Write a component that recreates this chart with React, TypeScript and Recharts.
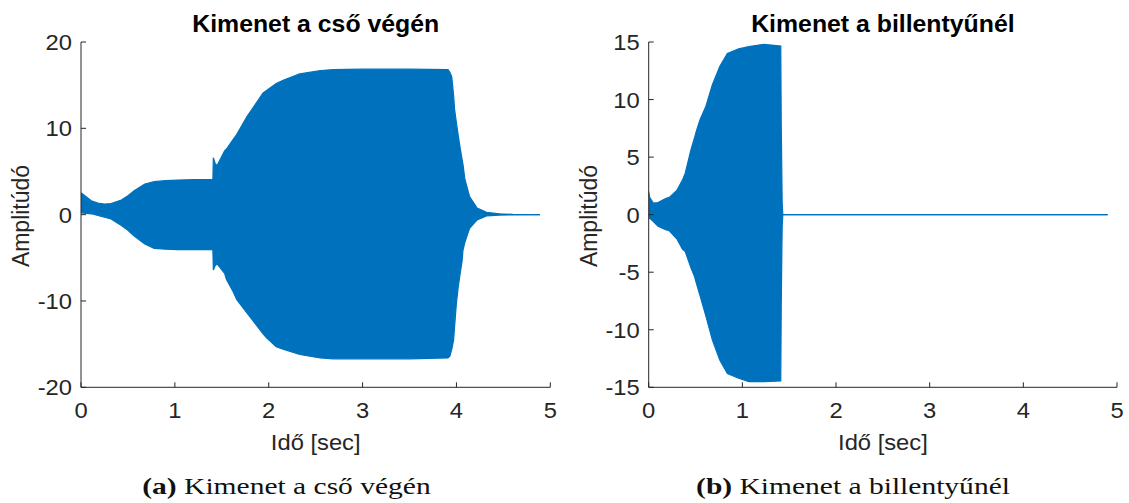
import React from 'react';
import { AreaChart, Area, XAxis, YAxis } from 'recharts';

// ---------- data ----------
const xTicks = [0, 1, 2, 3, 4, 5];
const leftYTicks = [-20, -10, 0, 10, 20];
const rightYTicks = [-15, -10, -5, 0, 5, 10, 15];

// Left panel: envelope of the output at the end of the tube
const leftTime = [
  0, 0.005, 0.11, 0.18, 0.25, 0.32, 0.43, 0.5, 0.57, 0.68, 0.78, 0.9, 1.03, 1.2, 1.39, 1.405,
  1.41, 1.43, 1.45, 1.53, 1.55, 1.62, 1.66, 1.77, 1.84, 1.94, 1.98, 2.08, 2.16, 2.33, 2.55,
  2.69, 3.0, 3.5, 3.91, 3.93, 3.95, 3.97, 3.98, 4.0, 4.02, 4.04, 4.06, 4.07, 4.09, 4.13, 4.14,
  4.22, 4.32, 4.46, 4.6, 4.89,
];
const leftUpper = [
  2.4, 2.5, 1.6, 1.35, 1.22, 1.28, 1.7, 2.2, 2.8, 3.55, 3.82, 3.95, 4.0, 4.05, 4.05, 4.05,
  6.6, 5.9, 5.7, 7.4, 7.6, 8.7, 9.3, 11.4, 12.5, 14.1, 14.4, 15.2, 15.6, 16.3, 16.7,
  16.8, 16.85, 16.85, 16.8, 16.5, 16.0, 13.8, 12.2, 10.6, 9.1, 7.7, 6.4, 5.8, 4.1, 2.5, 2.1,
  0.77, 0.27, 0.1, 0.03, 0,
];
const leftLower = [
  0.2, 0.2, 0.1, -0.1, -0.3, -0.5, -1.27, -1.8, -2.5, -3.4, -3.9, -4.0, -4.05, -4.05, -4.05, -4.1,
  -6.4, -5.9, -5.7, -6.8, -7.5, -8.9, -9.85, -11.4, -12.4, -13.8, -14.3, -15.3, -15.6, -16.2, -16.6,
  -16.7, -16.7, -16.7, -16.6, -16.4, -15.6, -14.5, -13.0, -10.2, -8.3, -6.8, -5.4, -4.1, -3.2, -1.9, -1.6,
  -0.6, -0.15, -0.05, -0.02, 0,
];

// Right panel: envelope of the output at the key
const rightTime = [
  0, 0.01, 0.05, 0.1, 0.18, 0.22, 0.3, 0.36, 0.39, 0.45, 0.49, 0.51, 0.55, 0.61, 0.68, 0.76,
  0.84, 0.96, 1.07, 1.23, 1.41, 1.415, 1.425, 1.432, 4.9,
];
const rightUpper = [
  2.0, 1.5, 1.0, 1.05, 1.4, 1.5, 2.1, 3.0, 3.6, 5.6, 6.7, 7.3, 8.3, 9.4, 11.3, 12.9,
  14.0, 14.4, 14.6, 14.8, 14.65, 7.9, 1.0, 0, 0,
];
const rightLower = [
  -0.35, -0.3, -0.6, -1.0, -1.3, -1.4, -2.1, -3.0, -3.2, -4.6, -5.4, -6.0, -7.1, -8.8, -10.9, -12.65,
  -13.8, -14.2, -14.5, -14.5, -14.45, -8.0, -1.0, 0, 0,
];

const leftTitle = 'Kimenet a cső végén';
const rightTitle = 'Kimenet a billentyűnél';
const xLabel = 'Idő [sec]';
const yLabel = 'Amplitúdó';
const leftTag = '(a)';
const rightTag = '(b)';

// ---------- styles ----------
const BLUE = '#0072BD';
const AXIS = '#262626';
const SANS = '"Liberation Sans", Arial, Helvetica, sans-serif';
const SERIF = '"Liberation Serif", "Times New Roman", serif';
const TICK_FS = 22;
const SX = 1.08;

const leftData = leftTime.map((t, i) => ({ t, range: [leftLower[i], leftUpper[i]] }));
const rightData = rightTime.map((t, i) => ({ t, range: [rightLower[i], rightUpper[i]] }));

function XTick(props: any) {
  const { x, y, payload } = props;
  return (
    <g>
      <line x1={x} y1={y} x2={x} y2={y - 5} stroke={AXIS} strokeWidth={1} />
      <text
        transform={`translate(${x},${y + 31}) scale(${SX},1)`}
        textAnchor="middle"
        fontFamily={SANS}
        fontSize={TICK_FS}
        fill={AXIS}
      >
        {payload.value}
      </text>
    </g>
  );
}

function YTick(props: any) {
  const { x, y, payload } = props;
  return (
    <g>
      <line x1={x} y1={y} x2={x + 5} y2={y} stroke={AXIS} strokeWidth={1} />
      <text
        transform={`translate(${x - 9},${y + 8}) scale(${SX},1)`}
        textAnchor="end"
        fontFamily={SANS}
        fontSize={TICK_FS}
        fill={AXIS}
      >
        {payload.value}
      </text>
    </g>
  );
}

const Y_W = 60;
const X_H = 40;

function Panel(props: { data: any[]; yTicks: number[]; width: number; left: number; right: number }) {
  const { data, yTicks, width, left, right } = props;
  const ymax = yTicks[yTicks.length - 1];
  return (
    <AreaChart
      width={width}
      height={503}
      data={data}
      margin={{ top: 42, right, bottom: 115.7 - X_H, left: left - Y_W }}
    >
      <XAxis
        type="number"
        dataKey="t"
        domain={[0, 5]}
        ticks={xTicks}
        height={X_H}
        tickSize={0}
        tickMargin={0}
        tickLine={false}
        axisLine={{ stroke: AXIS, strokeWidth: 1 }}
        tick={<XTick />}
        interval={0}
        allowDataOverflow
      />
      <YAxis
        type="number"
        domain={[-ymax, ymax]}
        ticks={yTicks}
        width={Y_W}
        tickSize={0}
        tickMargin={0}
        tickLine={false}
        axisLine={{ stroke: AXIS, strokeWidth: 1 }}
        tick={<YTick />}
        interval={0}
        allowDataOverflow
      />
      <Area
        type="linear"
        dataKey="range"
        stroke={BLUE}
        strokeWidth={1.2}
        fill={BLUE}
        fillOpacity={1}
        dot={false}
        activeDot={false}
        isAnimationActive={false}
      />
    </AreaChart>
  );
}

export default function App() {
  return (
    <div style={{ position: 'absolute', left: 0, top: 0, width: 1129, height: 503, background: '#fff', overflow: 'hidden' }}>
      <div style={{ position: 'absolute', left: 0, top: 0 }}>
        <Panel data={leftData} yTicks={leftYTicks} width={565} left={81} right={14.7} />
      </div>
      <div style={{ position: 'absolute', left: 565, top: 0 }}>
        <Panel data={rightData} yTicks={rightYTicks} width={564} left={83.7} right={12} />
      </div>
      <svg width={1129} height={503} style={{ position: 'absolute', left: 0, top: 0, pointerEvents: 'none' }}>
        <text transform={`translate(315.7,32.3) scale(${SX},1)`} textAnchor="middle" fontFamily={SANS} fontWeight="bold" fontSize={23} fill="#000">{leftTitle}</text>
        <text transform={`translate(882.9,32.3) scale(${SX},1)`} textAnchor="middle" fontFamily={SANS} fontWeight="bold" fontSize={23} fill="#000">{rightTitle}</text>
        <text transform={`translate(315.7,450) scale(${SX},1)`} textAnchor="middle" fontFamily={SANS} fontSize={TICK_FS} fill={AXIS}>{xLabel}</text>
        <text transform={`translate(882.9,450) scale(${SX},1)`} textAnchor="middle" fontFamily={SANS} fontSize={TICK_FS} fill={AXIS}>{xLabel}</text>
        <text transform={`translate(29,216) rotate(-90) scale(1,${SX})`} textAnchor="middle" fontFamily={SANS} fontSize={23} fill={AXIS}>{yLabel}</text>
        <text transform={`translate(596.7,216) rotate(-90) scale(1,${SX})`} textAnchor="middle" fontFamily={SANS} fontSize={23} fill={AXIS}>{yLabel}</text>
        <text transform="translate(286.5,494) scale(1.23,1)" textAnchor="middle" fontFamily={SERIF} fontSize={24} fill="#111">
          <tspan fontWeight="bold">{leftTag}</tspan> Kimenet a cső végén
        </text>
        <text transform="translate(853,494) scale(1.23,1)" textAnchor="middle" fontFamily={SERIF} fontSize={24} fill="#111">
          <tspan fontWeight="bold">{rightTag}</tspan> Kimenet a billentyűnél
        </text>
      </svg>
    </div>
  );
}
